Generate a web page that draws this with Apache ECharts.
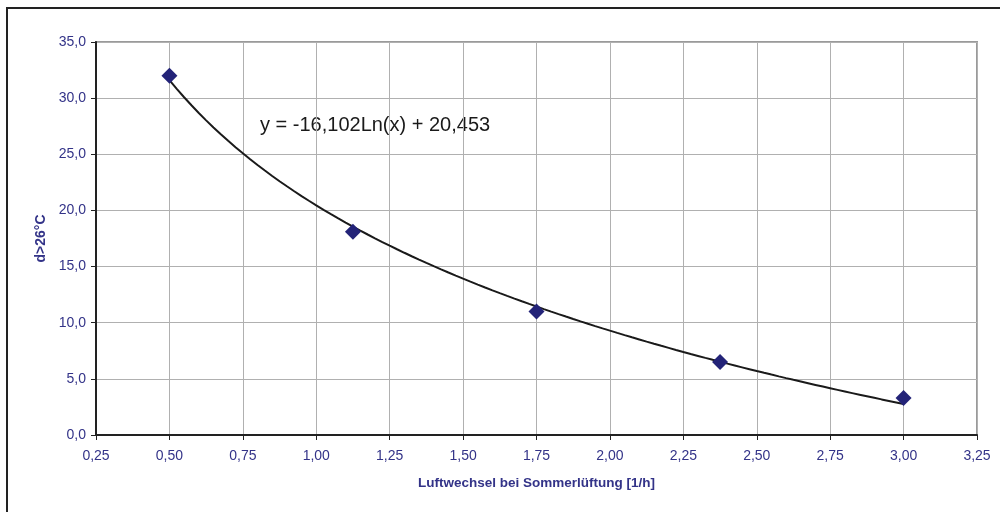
<!DOCTYPE html>
<html>
<head>
<meta charset="utf-8">
<script src="https://cdn.jsdelivr.net/npm/echarts@6/dist/echarts.min.js"></script>
<style>
  html, body { margin: 0; padding: 0; background: #fff; }
  #chart { width: 1000px; height: 512px; }
</style>
</head>
<body>
<div id="chart"></div>
<script>
// Measured air-change rates and hours above 26 °C
const airChange = [0.5, 1.125, 1.75, 2.375, 3.0];
const hoursAbove26 = [32.0, 18.1, 11.0, 6.5, 3.3];

// Logarithmic trend line y = a·ln(x) + b, as printed on the chart
const trendA = -16.102;
const trendB = 20.453;
const trendLabel = 'y = -16,102Ln(x) + 20,453';

const xName = 'Luftwechsel bei Sommerlüftung [1/h]';
const yName = 'd>26°C';

// Sample the trend curve across the measured range
const trendXs = [];
for (let i = 0; i <= 100; i++) {
  trendXs.push(airChange[0] + (airChange[airChange.length - 1] - airChange[0]) * i / 100);
}
const trendData = trendXs.map(x => [x, trendA * Math.log(x) + trendB]);

const navy = '#333388';
const font = 'Liberation Sans, Arial, sans-serif';

const chart = echarts.init(document.getElementById('chart'), null, { renderer: 'canvas' });

chart.setOption({
  animation: false,
  backgroundColor: '#ffffff',
  grid: {
    left: 96, right: 23, top: 42, bottom: 77,
    show: true, borderColor: '#9a9a9a', borderWidth: 2, backgroundColor: 'transparent'
  },
  xAxis: {
    type: 'value', min: 0.25, max: 3.25, interval: 0.25,
    name: xName, nameLocation: 'middle', nameGap: 41,
    nameTextStyle: { color: navy, fontFamily: font, fontSize: 13.5, fontWeight: 'bold' },
    axisLine: { show: true, lineStyle: { color: '#222', width: 2 } },
    axisTick: { show: true, length: 5, lineStyle: { color: '#222', width: 1 } },
    axisLabel: {
      color: navy, fontFamily: font, fontSize: 14, margin: 14,
      formatter: v => v.toFixed(2).replace('.', ',')
    },
    splitLine: { show: true, lineStyle: { color: '#b0b0b0', width: 1 } }
  },
  yAxis: {
    type: 'value', min: 0, max: 35, interval: 5,
    name: yName, nameLocation: 'middle', nameGap: 48, nameRotate: 90,
    nameTextStyle: { color: navy, fontFamily: font, fontSize: 14, fontWeight: 'bold' },
    axisLine: { show: true, lineStyle: { color: '#222', width: 2 } },
    axisTick: { show: true, length: 5, lineStyle: { color: '#222', width: 1 } },
    axisLabel: {
      color: navy, fontFamily: font, fontSize: 14, margin: 10,
      formatter: v => v.toFixed(1).replace('.', ',')
    },
    splitLine: { show: true, lineStyle: { color: '#b0b0b0', width: 1 } }
  },
  series: [
    {
      name: 'Trend',
      type: 'line',
      data: trendData,
      showSymbol: false,
      smooth: false,
      lineStyle: { color: '#1a1a1a', width: 2 },
      z: 2
    },
    {
      name: 'Messwerte',
      type: 'scatter',
      data: airChange.map((x, i) => [x, hoursAbove26[i]]),
      symbol: 'diamond',
      symbolSize: [16, 16],
      itemStyle: { color: '#232378', opacity: 1 },
      z: 3
    }
  ],
  graphic: [
    {
      type: 'rect',
      shape: { x: 7, y: 8, width: 1100, height: 600 },
      style: { fill: 'none', stroke: '#222', lineWidth: 2 },
      silent: true
    },
    {
      type: 'text',
      left: 260, top: 115,
      style: { text: trendLabel, fill: '#1a1a1a', font: '20px ' + font }
    }
  ]
});
</script>
</body>
</html>
